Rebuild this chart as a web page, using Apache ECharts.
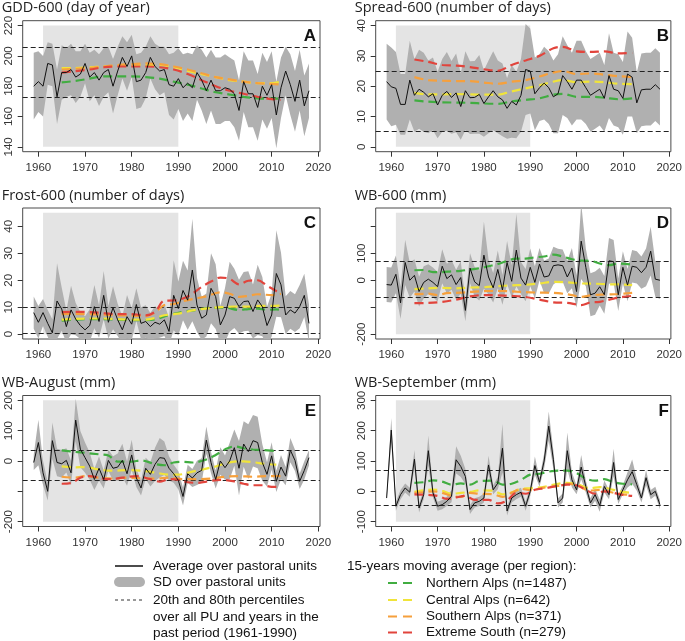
<!DOCTYPE html>
<html><head><meta charset="utf-8">
<script src="https://cdn.jsdelivr.net/npm/echarts@6/dist/echarts.min.js"></script>
<style>html,body{margin:0;padding:0;background:#fff}#c{width:685px;height:641px}</style>
</head><body><div id="c"></div>
<script>
// ---------------- DATA ----------------
const years = [1959,1960,1961,1962,1963,1964,1965,1966,1967,1968,1969,1970,1971,1972,1973,1974,1975,1976,1977,1978,1979,1980,1981,1982,1983,1984,1985,1986,1987,1988,1989,1990,1991,1992,1993,1994,1995,1996,1997,1998,1999,2000,2001,2002,2003,2004,2005,2006,2007,2008,2009,2010,2011,2012,2013,2014,2015,2016,2017,2018];
const xTicks = [1960,1970,1980,1990,2000,2010,2020];
const refPeriod = [1961, 1990];

// A: GDD-600
const gddMean = [180,183,180,195,194,173,189,189,191,186, 188,195,186,189,184,189,191,180,190,199, 193,200,183,184,189,199,193,190,191,181, 180,185,179,182,179,189,184,177,184,177, 177,179,178,175,164,183,175,175,166,180, 174,181,161,179,190,181,170,184,167,177];
const gddSd = [22,20,20,14,14,18,18,16,17,17, 15,13,16,15,17,16,15,18,16,14, 16,14,18,18,17,14,15,16,15,20, 22,20,22,20,22,18,20,22,20,22, 22,22,21,22,20,20,22,22,22,22, 22,22,22,20,16,20,20,20,20,18];
const gddNorth = [[1965,182.5],[1968,183.5],[1971,185],[1974,186.5],[1977,186.5],[1980,186.5],[1983,186],[1986,185],[1989,183],[1992,181],[1995,178.5],[1998,176],[2001,174.5],[2004,173],[2007,172],[2010,171.8],[2012,171.8]];
const gddCentral = [[1965,192],[1968,192],[1971,192.5],[1974,193],[1977,193.5],[1980,194],[1983,194],[1986,194],[1989,192.5],[1992,190],[1995,188],[1998,186],[2001,184],[2004,183],[2007,182],[2010,182],[2012,183]];
const gddSouth = [[1965,191],[1968,191.5],[1971,192],[1974,193],[1977,194],[1980,194.5],[1983,195],[1986,194.5],[1989,193],[1992,191],[1995,188.5],[1998,186],[2001,184.5],[2004,183],[2007,182],[2010,181.5],[2012,181]];
const gddExtreme = [[1965,189],[1968,190],[1971,191],[1974,192.5],[1977,193],[1980,193],[1983,193],[1986,192.5],[1989,191],[1992,188],[1995,184],[1998,180],[2001,177],[2004,175],[2007,173],[2010,171.5],[2012,171]];
const gddPct = [173, 206];
const gddRange = [140, 220];
const gddTicks = [140,160,180,200,220];
const gddLabels = [140,160,180,200,220];

// B: Spread-600
const sprMean = [21.5,19.8,19.3,14,14,22,17,19,18,16.5, 17.5,13.8,17,18.3,16.3,17.8,13.3,18.5,16.2,16.3, 17.3,14.3,16.5,18.5,16.5,15.5,12.7,15,13.8,17, 25.5,25,17.5,19.5,21,19.5,16.5,17.5,23.5,21.5, 19,22,22,19.5,17,18,19,16,23.5,19, 18.5,16,24,23,14.5,18.8,19,19,20.5,19];
const sprSd = [12.5,13,12,10,10,13,12,13,13,12, 12,11,12,13,12,13,11,13,12,12, 13,11,12,13,12,12,10,12,11,12, 15,14,12,11,12,12,12,13,13,12, 12,13,13,12,12,12,12,11,14,12, 12,12,14,13,10,12,12,12,12,12];
const sprNorth = [[1965,15.3],[1968,14.9],[1971,14.7],[1974,14.6],[1977,14.5],[1980,14.3],[1983,14.2],[1986,15],[1989,15.5],[1992,16],[1995,17.2],[1997,17.5],[2000,16.5],[2003,16.5],[2006,16.2],[2009,15.7],[2012,16]];
const sprCentral = [[1965,17.8],[1968,17.3],[1971,17.3],[1974,17.4],[1977,17.3],[1980,17.2],[1983,17.2],[1986,18.3],[1989,19.3],[1992,20.3],[1995,21.5],[1997,22],[2000,21.3],[2003,21.5],[2006,21.3],[2009,20.8],[2012,20.7]];
const sprSouth = [[1965,23],[1968,22],[1971,21.8],[1974,21.7],[1977,21.7],[1980,21.2],[1983,20.8],[1986,21.5],[1989,22],[1992,23.2],[1995,24.5],[1997,25],[2000,24],[2003,24.2],[2006,23.8],[2009,23.3],[2012,23]];
const sprExtreme = [[1965,28.8],[1968,28],[1971,27],[1974,26.8],[1977,26.3],[1980,25.6],[1983,25.1],[1986,27],[1989,28.5],[1992,30],[1995,32.5],[1997,33],[2000,31.5],[2003,31.3],[2006,31.5],[2009,30.8],[2012,31]];
const sprPct = [5, 25];
const sprRange = [0, 40];
const sprTicks = [0,10,20,30,40];
const sprLabels = [0,10,20,30,40];

// C: Frost-600
const frMean = [8,4.4,8,4,0.5,12.3,9.3,2.8,9,5.6, 3.2,1.6,3.2,10.2,4.7,14.4,4.4,9.8,5.3,1.6, 6.5,3.7,11,4,4.7,2.8,4.4,3.7,5.3,1, 14.4,9.5,16.2,12.6,23.8,10.8,5.9,7.1,17,13.9, 3.4,7.1,13.9,13.3,10.2,12.1,12.3,8.4,12.7,10.2, 3.2,7.1,22.5,18.3,7.1,9,7.8,10.2,14.4,4];
const frSd = [6,6,5,5,5,14,8,6,9,6, 5,5,6,8,6,9,6,8,6,5, 8,6,6,6,6,5,6,5,6,5, 13,10,11,11,19,10,8,8,13,12, 7,10,13,11,10,11,11,10,13,11, 7,8,16,12,7,7,7,8,8,7];
const frNorth = [[1965,5],[1968,5.4],[1971,5.6],[1974,5.6],[1977,5.4],[1980,5.2],[1983,5.2],[1985,5.5],[1988,7.1],[1991,8.3],[1994,9],[1997,9.8],[2000,9.8],[2003,9],[2005,9.3],[2007,9.5],[2009,9],[2011,9.2],[2012,9]];
const frCentral = [[1965,5.4],[1968,5.7],[1971,5.8],[1974,5.8],[1977,5.6],[1980,5.4],[1983,5.4],[1985,6],[1987,7],[1990,7.6],[1993,8.8],[1996,9.5],[1999,10],[2002,10.2],[2005,10.2],[2008,10.5],[2010,10.5],[2012,10.6]];
const frSouth = [[1965,7.4],[1968,7.5],[1971,7.4],[1974,7.2],[1977,7.0],[1980,6.9],[1983,6.7],[1985,8],[1987,10.8],[1989,11.2],[1991,12.2],[1993,13],[1996,14],[1999,15.5],[2001,15],[2003,13.8],[2005,14.2],[2007,14.8],[2010,14.5],[2012,15]];
const frExtreme = [[1965,8.2],[1968,8.3],[1971,8.2],[1974,7.8],[1977,7.4],[1980,7.4],[1983,7.0],[1985,8.3],[1987,12.4],[1989,12.5],[1991,13.2],[1993,15],[1995,17.5],[1997,19.5],[1999,21],[2001,20.5],[2003,18.5],[2005,19.8],[2007,20],[2009,18],[2011,16],[2012,15.5]];
const frPct = [0.3, 10];
const frRange = [0, 45];
const frTicks = [0,10,20,30,40];
const frLabels = [0,10,20,30,40];

// D: WB-600
const wbMean = [-16,-18,22,-84,66,0,18,-42,-8,4, -8,-24,52,6,20,-16,10,-112,45,-6, -20,93,12,-28,40,-36,66,-4,112,8, -18,48,-8,60,12,16,54,57,54,12, 45,-42,145,48,-54,-48,-24,-54,72,69, -54,48,-18,52,48,28,48,108,4,0];
const wbSd = [65,65,70,60,84,65,60,55,60,55, 55,55,63,55,55,55,60,40,55,55, 55,125,65,55,70,55,80,60,135,60, 60,70,60,60,60,65,70,60,60,60, 75,60,140,70,80,80,70,70,85,80, 60,60,60,60,60,60,70,90,65,70];
const wbNorth = [[1965,37],[1967,38],[1969,30],[1971,30],[1973,33],[1975,35],[1977,40],[1979,44],[1981,52],[1983,60],[1985,72],[1987,80],[1989,80],[1991,85],[1993,88],[1995,95],[1997,88],[1999,78],[2001,73],[2003,72],[2005,62],[2007,56],[2009,62],[2011,60],[2012,58]];
const wbCentral = [[1965,-33],[1968,-30],[1971,-28],[1974,-30],[1977,-27],[1980,-26],[1983,-22],[1986,-19],[1989,-17],[1992,-12],[1995,-6],[1998,-8],[2001,-12],[2004,-13],[2007,-15],[2010,-16],[2012,-18]];
const wbSouth = [[1965,-52],[1968,-50],[1970,-55],[1972,-48],[1975,-46],[1978,-42],[1981,-40],[1984,-40],[1987,-42],[1990,-45],[1993,-46],[1996,-48],[1999,-55],[2001,-62],[2003,-56],[2006,-53],[2009,-51],[2012,-47]];
const wbExtreme = [[1965,-85],[1968,-84],[1971,-80],[1974,-72],[1977,-60],[1980,-55],[1983,-56],[1986,-58],[1989,-62],[1992,-72],[1995,-82],[1998,-84],[2001,-92],[2003,-82],[2005,-80],[2008,-68],[2010,-62],[2012,-58]];
const wbPct = [-63, 70];
const wbRange = [-200, 250];
const wbTicks = [-200,-100,0,100,200];
const wbLabels = [-200,0,100];

// E: WB-August
const augMean = [-5,61,-39,-100,67,-5,-9,2,-39,135, 39,11,-17,-61,-24,-61,2,-24,-20,2, -42,20,-56,-89,-24,-44,-11,11,9,-24, -42,-64,-117,-42,-56,-39,-31,69,-5,-61, 0,-22,0,44,-24,56,31,67,61,-5, -44,17,-67,-20,-50,36,2,-67,-31,11];
const augSd = [25,75,40,30,60,45,45,40,40,70, 60,50,45,35,40,30,35,40,45,55, 40,50,30,25,35,40,55,65,55,40, 30,30,30,30,30,40,40,45,35,30, 45,40,60,60,90,75,90,85,85,60, 40,45,35,40,30,40,35,25,30,25];
const augNorth = [[1965,35],[1968,30],[1970,27],[1973,22],[1975,18],[1977,-2],[1980,-2],[1982,2],[1985,-10],[1987,-14],[1989,-5],[1991,-3],[1993,-5],[1996,5],[1998,20],[2000,38],[2002,48],[2004,42],[2006,38],[2008,36],[2011,33]];
const augCentral = [[1965,-18],[1968,-21],[1970,-20],[1973,-28],[1976,-32],[1979,-30],[1982,-32],[1985,-38],[1988,-45],[1990,-45],[1993,-35],[1996,-25],[1998,-18],[2000,-8],[2002,-2],[2004,-1],[2006,-4],[2009,-10],[2011,-12]];
const augSouth = [[1965,-52],[1968,-55],[1970,-50],[1973,-55],[1976,-58],[1979,-55],[1982,-57],[1985,-58],[1988,-55],[1991,-60],[1994,-60],[1997,-58],[2000,-52],[2003,-50],[2006,-52],[2009,-50],[2012,-50]];
const augExtreme = [[1965,-75],[1967,-73],[1969,-55],[1971,-50],[1973,-55],[1975,-60],[1978,-55],[1981,-50],[1984,-60],[1986,-68],[1988,-60],[1990,-62],[1992,-70],[1994,-72],[1996,-68],[1999,-62],[2002,-67],[2004,-75],[2006,-80],[2008,-80],[2010,-85],[2011,-85]];
const augPct = [-65, 35];
const augRange = [-200, 200];
const augTicks = [-200,-100,0,100,200];
const augLabels = [-200,0,100,200];

// F: WB-September
const sepMean = [-22,202,-49,-11,11,-3,106,-55,-11,134, -5,-49,-44,-33,-16,104,82,49,-60,-38, -33,-22,87,5,27,142,-65,-22,-11,-3, -49,0,85,30,100,215,104,-38,-22,134, 38,5,80,16,-38,-11,-47,16,-11,95, -27,5,38,65,22,-22,45,-11,0,-44];
const sepSd = [10,40,15,15,15,15,30,15,15,50, 15,15,15,15,20,45,35,25,15,15, 15,15,30,15,20,80,15,15,15,15, 15,15,30,15,25,48,30,15,15,60, 25,15,40,20,15,20,20,20,15,45, 15,15,25,40,20,15,25,15,15,15];
const sepNorth = [[1965,28],[1967,30],[1969,36],[1971,32],[1973,22],[1975,26],[1977,22],[1979,34],[1982,35],[1984,22],[1986,25],[1988,38],[1990,55],[1992,58],[1994,65],[1996,68],[1998,68],[2000,60],[2002,42],[2004,35],[2006,40],[2008,30],[2010,25],[2012,23]];
const sepCentral = [[1965,-2],[1967,3],[1969,6],[1971,2],[1973,-8],[1975,-5],[1977,-2],[1979,3],[1982,2],[1984,-10],[1986,-3],[1988,8],[1990,10],[1993,15],[1996,25],[1998,28],[2000,24],[2003,10],[2005,14],[2008,5],[2010,-2],[2012,-5]];
const sepSouth = [[1965,-5],[1967,-3],[1969,0],[1971,-5],[1973,-15],[1975,-18],[1977,-5],[1979,-8],[1982,-10],[1984,-18],[1986,-5],[1988,8],[1990,4],[1993,12],[1996,18],[1998,25],[2000,20],[2003,2],[2005,5],[2008,-5],[2010,-10],[2012,-12]];
const sepExtreme = [[1965,-10],[1968,-12],[1970,-15],[1972,-25],[1974,-20],[1976,-15],[1978,-28],[1981,-28],[1983,-40],[1985,-30],[1987,-5],[1989,-8],[1991,5],[1993,10],[1996,18],[1998,22],[2000,20],[2002,5],[2004,-8],[2006,0],[2008,-5],[2010,-12],[2012,-15]];
const sepPct = [-46, 70];
const sepRange = [-100, 300];
const sepTicks = [-100,0,100,200,300];
const sepLabels = [-100,0,100,200,300];

const titles = ['GDD-600 (day of year)','Spread-600 (number of days)','Frost-600 (number of days)','WB-600 (mm)','WB-August (mm)','WB-September (mm)'];
const letters = ['A','B','C','D','E','F'];
const legendLeft = ['Average over pastoral units','SD over pastoral units','20th and 80th percentiles','over all PU and years in the','past period (1961-1990)'];
const legendRightTitle = '15-years moving average (per region):';
const regionNames = ['Northern Alps (n=1487)','Central Alps (n=642)','Southern Alps (n=371)','Extreme South (n=279)'];

// ---------------- BUILD ----------------
const panels = [
  {mean:gddMean, sd:gddSd, ma:[gddNorth,gddCentral,gddSouth,gddExtreme], pct:gddPct, range:gddRange, ticks:gddTicks, labels:gddLabels},
  {mean:sprMean, sd:sprSd, ma:[sprNorth,sprCentral,sprSouth,sprExtreme], pct:sprPct, range:sprRange, ticks:sprTicks, labels:sprLabels},
  {mean:frMean, sd:frSd, ma:[frNorth,frCentral,frSouth,frExtreme], pct:frPct, range:frRange, ticks:frTicks, labels:frLabels},
  {mean:wbMean, sd:wbSd, ma:[wbNorth,wbCentral,wbSouth,wbExtreme], pct:wbPct, range:wbRange, ticks:wbTicks, labels:wbLabels},
  {mean:augMean, sd:augSd, ma:[augNorth,augCentral,augSouth,augExtreme], pct:augPct, range:augRange, ticks:augTicks, labels:augLabels},
  {mean:sepMean, sd:sepSd, ma:[sepNorth,sepCentral,sepSouth,sepExtreme], pct:sepPct, range:sepRange, ticks:sepTicks, labels:sepLabels}
];

const maColors = ['#41ad41','#f0e43a','#f6a03c','#e1443c'];
const bandColor = '#b0b0b0';
const refColor = '#e4e4e4';
const colLeft = [22.7, 375.7], rowTop = [20.7, 208, 395.5];
const GW = 297.3, GH = 131;
const tickFont = "'Liberation Sans Narrow','Liberation Sans',Arial,sans-serif";
const plain = v => String(v);

const grids = [], xAxes = [], yAxes = [], series = [], graphics = [];
panels.forEach((p, i) => {
  const left = colLeft[i % 2], top = rowTop[Math.floor(i / 2)];
  grids.push({left: left, top: top, width: GW, height: GH, show: true, borderColor: '#4a4a4a', borderWidth: 1, backgroundColor: 'transparent'});
  const xr = (years[years.length-1] - years[0]) * 0.04;
  const yr = (p.range[1] - p.range[0]) * 0.04;
  xAxes.push({type:'value', gridIndex:i, position:'bottom', min: years[0]-xr, max: years[years.length-1]+xr,
    axisLine:{show:false, onZero:false}, splitLine:{show:false},
    axisTick:{show:true, customValues:xTicks, length:5, lineStyle:{color:'#333'}},
    axisLabel:{show:true, customValues:xTicks, formatter:plain, margin:10, fontSize:11.5, color:'#333', fontFamily:tickFont}});
  yAxes.push({type:'value', gridIndex:i, position:'left', min: p.range[0]-yr, max: p.range[1]+yr,
    axisLine:{show:false, onZero:false}, splitLine:{show:false},
    axisTick:{show:true, customValues:p.ticks, length:5, lineStyle:{color:'#333'}},
    axisLabel:{show:true, customValues:p.labels, formatter:plain, rotate:90, margin:8, fontSize:11.5, color:'#333', fontFamily:tickFont}});

  // SD band polygon built from data through axis scales
  const mean = p.mean, sd = p.sd;
  series.push({type:'custom', xAxisIndex:i, yAxisIndex:i, z:2, silent:true, clip:true,
    data:[[years[0], mean[0]]],
    renderItem: function(params, api){
      const up = [], lo = [];
      for (let k = 0; k < years.length; k++) {
        up.push(api.coord([years[k], mean[k] + sd[k]]));
        lo.push(api.coord([years[k], mean[k] - sd[k]]));
      }
      const cs = params.coordSys;
      return {type:'polygon', shape:{points: up.concat(lo.reverse())}, style:{fill: bandColor, stroke: null},
        clipPath:{type:'rect', shape:{x:cs.x, y:cs.y, width:cs.width, height:cs.height}}};
    }});

  // mean line + reference period rect + percentiles
  series.push({type:'line', xAxisIndex:i, yAxisIndex:i, z:6, silent:true, symbol:'none',
    data: years.map((y, k) => [y, mean[k]]),
    lineStyle:{color:'#111', width:1}, itemStyle:{color:'#111'},
    markArea:{silent:true, z:1, itemStyle:{color: refColor}, label:{show:false},
      data:[[{coord:[refPeriod[0], p.range[0]]},{coord:[refPeriod[1], p.range[1]]}]]},
    markLine:{silent:true, z:3, symbol:['none','none'], label:{show:false},
      lineStyle:{color:'#222', type:[5,3], width:1},
      data:[{yAxis:p.pct[0]},{yAxis:p.pct[1]}]}
  });
  p.ma.forEach((m, j) => {
    series.push({type:'line', xAxisIndex:i, yAxisIndex:i, z:4, silent:true, symbol:'none', smooth:0.35,
      data:m, lineStyle:{color:maColors[j], width:2.2, type:[9,5]}});
  });

  graphics.push({type:'text', left: left - 21, top: top - 20, style:{text: titles[i], font:"14.5px 'Open Sans', sans-serif", fill:'#222'}});
  graphics.push({type:'text', right: 685 - (left + GW - 4), top: top + 7, style:{text: letters[i], font:"bold 17px 'Liberation Sans', Arial, sans-serif", fill:'#111'}});
});

// legend (left)
const lf = "13.5px 'Liberation Sans', Arial, sans-serif";
const lys = [566, 582, 600, 617, 633];
graphics.push({type:'line', shape:{x1:115, y1:lys[0], x2:143, y2:lys[0]}, style:{stroke:'#111', lineWidth:1.5}});
graphics.push({type:'rect', shape:{x:114, y:lys[1]-5, width:31, height:10, r:5}, style:{fill:bandColor}});
graphics.push({type:'line', shape:{x1:115, y1:lys[2], x2:143, y2:lys[2]}, style:{stroke:'#333', lineWidth:1, lineDash:[3,3]}});
legendLeft.forEach((t, k) => graphics.push({type:'text', x:153, y:lys[k], style:{text:t, font:lf, fill:'#111', verticalAlign:'middle'}}));
// legend (right)
graphics.push({type:'text', x:347, y:lys[0], style:{text:legendRightTitle, font:lf, fill:'#111', verticalAlign:'middle'}});
const rys = [583, 600, 616.5, 632.5];
regionNames.forEach((t, k) => {
  graphics.push({type:'line', shape:{x1:388, y1:rys[k], x2:414, y2:rys[k]}, style:{stroke:maColors[k], lineWidth:2.2, lineDash:[9,6]}});
  graphics.push({type:'text', x:426, y:rys[k], style:{text:t, font:lf, fill:'#111', verticalAlign:'middle'}});
});

const chart = echarts.init(document.getElementById('c'), null, {renderer:'canvas'});
chart.setOption({animation:false, backgroundColor:'#fff', grid:grids, xAxis:xAxes, yAxis:yAxes, series:series, graphic:graphics});
</script></body></html>
